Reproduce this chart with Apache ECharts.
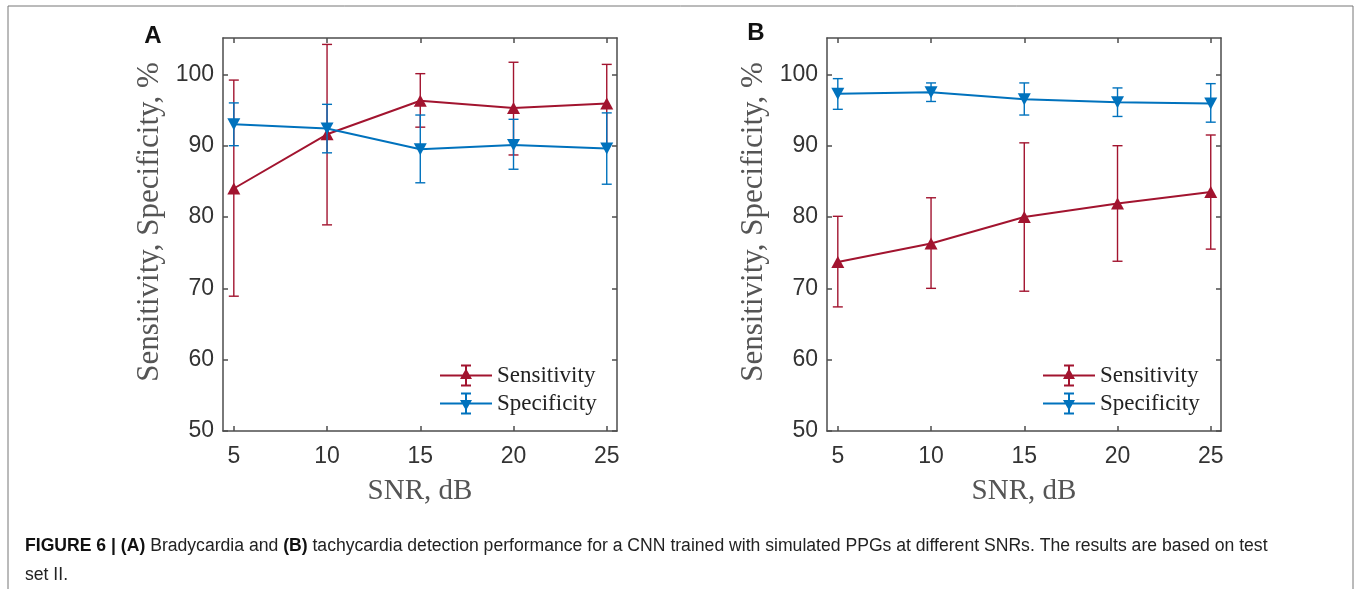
<!DOCTYPE html>
<html>
<head>
<meta charset="utf-8">
<script src="https://cdn.jsdelivr.net/npm/echarts@6/dist/echarts.min.js"></script>
<style>
  html, body { margin: 0; padding: 0; background: #fff; }
  #chart { width: 1356px; height: 589px; }
</style>
</head>
<body>
<div id="chart"></div>
<script>
// SNR levels (dB)
var snr = [5, 10, 15, 20, 25];
var xTicks = [5, 10, 15, 20, 25];
var yTicks = [50, 60, 70, 80, 90, 100];

// Panel A - bradycardia
var sensA = [84.0, 91.6, 96.3, 95.3, 95.9];
var sensALo = [68.9, 78.9, 92.6, 88.7, 90.2];
var sensAHi = [99.2, 104.2, 100.1, 101.7, 101.4];
var specA = [93.0, 92.4, 89.5, 90.1, 89.6];
var specALo = [90.0, 89.0, 84.8, 86.7, 84.6];
var specAHi = [96.0, 95.8, 94.3, 93.7, 94.6];

// Panel B - tachycardia
var sensB = [73.7, 76.3, 80.0, 81.9, 83.5];
var sensBLo = [67.4, 70.0, 69.6, 73.8, 75.5];
var sensBHi = [80.1, 82.7, 90.4, 90.0, 91.5];
var specB = [97.3, 97.5, 96.5, 96.1, 95.9];
var specBLo = [95.1, 96.2, 94.3, 94.1, 93.3];
var specBHi = [99.4, 98.8, 98.8, 98.1, 98.7];

var RED = '#A2142F';
var BLUE = '#0072BD';
var AXIS = '#4d4d4d';
var YTITLE = 'Sensitivity, Specificity, %';

var upIcon = 'path://M0 10L52 10L52 12L0 12Z M25 1L27 1L27 21L25 21Z M21 0L31 0L31 2L21 2Z M21 20L31 20L31 22L21 22Z M26 4L32 14.5L20 14.5Z';
var downIcon = 'path://M0 10L52 10L52 12L0 12Z M25 1L27 1L27 21L25 21Z M21 0L31 0L31 2L21 2Z M21 20L31 20L31 22L21 22Z M20 7.5L32 7.5L26 18Z';

function zip3(x, lo, hi) {
  return x.map(function (v, i) { return [v, lo[i], hi[i]]; });
}
function zip2(x, y) {
  return x.map(function (v, i) { return [v, y[i]]; });
}

function errRender(params, api) {
  var x = api.value(0);
  var lo = api.coord([x, api.value(1)]);
  var hi = api.coord([x, api.value(2)]);
  var w = 5;
  var style = { stroke: api.visual('color'), lineWidth: 1.4 };
  return {
    type: 'group',
    children: [
      { type: 'line', shape: { x1: lo[0], y1: lo[1], x2: hi[0], y2: hi[1] }, style: style },
      { type: 'line', shape: { x1: lo[0] - w, y1: lo[1], x2: lo[0] + w, y2: lo[1] }, style: style },
      { type: 'line', shape: { x1: hi[0] - w, y1: hi[1], x2: hi[0] + w, y2: hi[1] }, style: style }
    ]
  };
}

function xAx(gi, pos, show) {
  return {
    type: 'value', gridIndex: gi, position: pos, min: 4.42, max: 25.55,
    name: show ? 'SNR, dB' : '', nameLocation: 'middle', nameGap: 46,
    nameTextStyle: { fontFamily: 'Liberation Serif', fontSize: 29, color: '#555' },
    axisLine: { show: true, onZero: false, lineStyle: { color: AXIS, width: 1.5 } },
    axisTick: { show: true, inside: true, length: 5, customValues: xTicks, lineStyle: { color: AXIS, width: 1.5 } },
    axisLabel: { show: show, customValues: xTicks, margin: 14, fontFamily: 'Liberation Sans', fontSize: 23, color: '#333' },
    splitLine: { show: false }
  };
}
function yAx(gi, pos, show) {
  return {
    type: 'value', gridIndex: gi, position: pos, min: 50, max: 105.1,
    axisLine: { show: true, onZero: false, lineStyle: { color: AXIS, width: 1.5 } },
    axisTick: { show: true, inside: true, length: 5, customValues: yTicks, lineStyle: { color: AXIS, width: 1.5 } },
    axisLabel: { show: show, customValues: yTicks, margin: 9, fontFamily: 'Liberation Sans', fontSize: 23, color: '#333' },
    splitLine: { show: false }
  };
}

function panelSeries(xi, yi, sens, sLo, sHi, spec, pLo, pHi) {
  return [
    {
      name: 'Sensitivity', type: 'line', xAxisIndex: xi, yAxisIndex: yi,
      data: zip2(snr, sens), symbol: 'triangle', symbolSize: [13, 12],
      lineStyle: { color: RED, width: 2 }, itemStyle: { color: RED }, z: 3
    },
    {
      name: 'Sensitivity', type: 'custom', xAxisIndex: xi, yAxisIndex: yi,
      data: zip3(snr, sLo, sHi), renderItem: errRender, itemStyle: { color: RED }, z: 3
    },
    {
      name: 'Specificity', type: 'line', xAxisIndex: xi, yAxisIndex: yi,
      data: zip2(snr, spec), symbol: 'triangle', symbolRotate: 180, symbolSize: [13, 12],
      lineStyle: { color: BLUE, width: 2 }, itemStyle: { color: BLUE }, z: 4
    },
    {
      name: 'Specificity', type: 'custom', xAxisIndex: xi, yAxisIndex: yi,
      data: zip3(snr, pLo, pHi), renderItem: errRender, itemStyle: { color: BLUE }, z: 4
    }
  ];
}

function legendAt(left) {
  return {
    orient: 'vertical', left: left, top: 364, padding: 0, itemGap: 5,
    itemWidth: 52, itemHeight: 22, selectedMode: false,
    textStyle: { fontFamily: 'Liberation Serif', fontSize: 23, color: '#222' },
    data: [
      { name: 'Sensitivity', icon: upIcon, itemStyle: { color: RED } },
      { name: 'Specificity', icon: downIcon, itemStyle: { color: BLUE } }
    ]
  };
}

function yTitle(x) {
  return {
    type: 'text', x: x, y: 222, rotation: Math.PI / 2,
    style: { text: YTITLE, fontFamily: 'Liberation Serif', fontSize: 31, fill: '#555', align: 'center', verticalAlign: 'middle' }
  };
}

var chart = echarts.init(document.getElementById('chart'), null, { renderer: 'canvas' });
chart.setOption({
  animation: false,
  backgroundColor: '#fff',
  grid: [
    { left: 223, top: 38, width: 394, height: 393 },
    { left: 827, top: 38, width: 394, height: 393 }
  ],
  xAxis: [xAx(0, 'bottom', true), xAx(0, 'top', false), xAx(1, 'bottom', true), xAx(1, 'top', false)],
  yAxis: [yAx(0, 'left', true), yAx(0, 'right', false), yAx(1, 'left', true), yAx(1, 'right', false)],
  legend: [legendAt(440), legendAt(1043)],
  series: panelSeries(0, 0, sensA, sensALo, sensAHi, specA, specALo, specAHi)
    .concat(panelSeries(2, 2, sensB, sensBLo, sensBHi, specB, specBLo, specBHi)),
  graphic: [
    { type: 'rect', shape: { x: 8, y: 6, width: 1345, height: 620 }, style: { fill: null, stroke: '#777', lineWidth: 1 }, silent: true },
    yTitle(150),
    yTitle(754),
    { type: 'text', x: 153, y: 36, style: { text: 'A', fontFamily: 'Liberation Sans', fontWeight: 'bold', fontSize: 24, fill: '#111', align: 'center', verticalAlign: 'middle' } },
    { type: 'text', x: 756, y: 33, style: { text: 'B', fontFamily: 'Liberation Sans', fontWeight: 'bold', fontSize: 24, fill: '#111', align: 'center', verticalAlign: 'middle' } },
    {
      type: 'text', x: 25, y: 546,
      style: {
        text: '{b|FIGURE 6 | (A)} Bradycardia and {b|(B)} tachycardia detection performance for a CNN trained with simulated PPGs at different SNRs. The results are based on test',
        fontFamily: 'Liberation Sans', fontSize: 17.6, fill: '#222', verticalAlign: 'middle',
        rich: { b: { fontFamily: 'Liberation Sans', fontSize: 17.6, fontWeight: 'bold', fill: '#111' } }
      }
    },
    { type: 'text', x: 25, y: 575, style: { text: 'set II.', fontFamily: 'Liberation Sans', fontSize: 17.6, fill: '#222', verticalAlign: 'middle' } }
  ]
});
</script>
</body>
</html>
